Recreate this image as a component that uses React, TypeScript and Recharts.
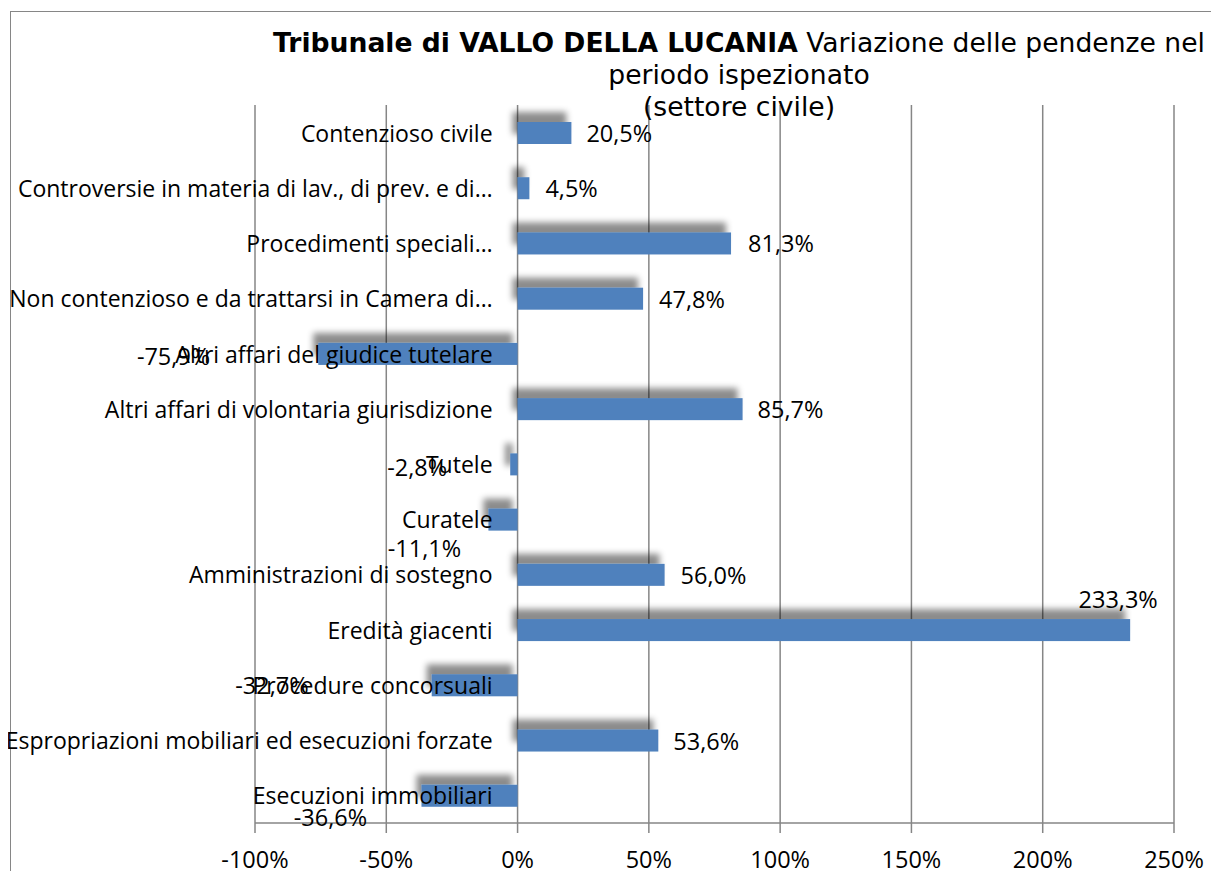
import React from 'react';
import { BarChart, Bar, XAxis, YAxis, CartesianGrid, LabelList } from 'recharts';

// categorie (ordine dall'alto)
const categories = [
  'Contenzioso civile',
  'Controversie in materia di lav., di prev. e di…',
  'Procedimenti speciali…',
  'Non contenzioso e da trattarsi in Camera di…',
  'Altri affari del giudice tutelare',
  'Altri affari di volontaria giurisdizione',
  'Tutele',
  'Curatele',
  'Amministrazioni di sostegno',
  'Eredità giacenti',
  'Procedure concorsuali',
  'Espropriazioni mobiliari ed esecuzioni forzate',
  'Esecuzioni immobiliari',
];

// variazione percentuale delle pendenze
const variations = [20.5, 4.5, 81.3, 47.8, -75.9, 85.7, -2.8, -11.1, 56.0, 233.3, -32.7, 53.6, -36.6];

const xTicks = [-100, -50, 0, 50, 100, 150, 200, 250];

// where Excel dropped each data label, relative to the bar end
const labelPlacement: [string, number, number][] = [
  ['start', 15, 0],
  ['start', 16, 0],
  ['start', 17, 0],
  ['start', 16, 0],
  ['end', -108, 2],
  ['start', 15, 0],
  ['end', -63, 3],
  ['middle', -64, 28],
  ['start', 16, 0],
  ['middle', -12, -31],
  ['end', -123, 0],
  ['start', 15, 0],
  ['middle', -91, 21],
];

const data = categories.map((name, i) => ({ name, value: variations[i] }));

const W = 1203;
const H = 863;
const MARGIN = { top: 97, right: 37, bottom: 0, left: 0 };
const Y_AXIS_W = 247;
const X_MIN = -100;
const X_MAX = 250;
const ZERO_X = Y_AXIS_W + ((W - MARGIN.right - Y_AXIS_W) * (0 - X_MIN)) / (X_MAX - X_MIN);

const FONT = '"Open Sans", sans-serif';
const FS = 23.5;
const GRID = '#868686';
const BLUE = '#4F81BD';

const fmt = (v: number) => `${v.toFixed(1).replace('.', ',')}%`;

function CategoryTick({ y, payload }: any) {
  return (
    <text x={ZERO_X - 25} y={y} textAnchor="end" dominantBaseline="central" fontSize={23} fontFamily={FONT} fill="#000">
      {payload.value}
    </text>
  );
}

function ValueTick({ x, y, payload }: any) {
  return (
    <text x={x} y={y + 24} textAnchor="middle" dominantBaseline="central" fontSize={FS} fontFamily={FONT} fill="#000">
      {payload.value}%
    </text>
  );
}

function ShadowBar({ x, y, width, height }: any) {
  const x0 = width < 0 ? x + width : x;
  return <rect x={x0} y={y} width={Math.abs(width)} height={height} fill={BLUE} filter="url(#barShadow)" />;
}

function ValueLabel(props: any) {
  const vb = props.viewBox ?? props;
  const { x, y, width, height } = vb;
  const { value, index } = props;
  const end = value >= 0 ? Math.max(x, x + width) : Math.min(x, x + width);
  const [anchor, dx, dy] = labelPlacement[index];
  return (
    <text
      x={end + dx}
      y={y + height / 2 + dy}
      textAnchor={anchor as any}
      dominantBaseline="central"
      fontSize={FS}
      fontFamily={FONT}
      fill="#000"
    >
      {fmt(value)}
    </text>
  );
}

export default function App() {
  // fixed so the page never grows a scrollbar
  return (
    <div
      style={{
        position: 'fixed',
        left: 8,
        top: 8,
        width: W,
        height: H,
        overflow: 'hidden',
        background: '#fff',
      }}
    >
      <svg width={0} height={0} style={{ position: 'absolute' }}>
        <defs>
          <filter id="barShadow" filterUnits="userSpaceOnUse" x={0} y={0} width={W} height={H}>
            <feDropShadow dx={-5} dy={-10} stdDeviation={3} floodColor="#000" floodOpacity={0.45} />
          </filter>
        </defs>
      </svg>
      <div
        style={{
          position: 'absolute',
          left: 2,
          top: 3,
          width: 1210,
          height: 900,
          border: `1px solid ${GRID}`,
          boxSizing: 'border-box',
        }}
      />
      <BarChart width={W} height={H} data={data} layout="vertical" margin={MARGIN}>
        <CartesianGrid vertical horizontal={false} stroke={GRID} strokeWidth={1.5} />
        <XAxis
          type="number"
          domain={[X_MIN, X_MAX]}
          ticks={xTicks}
          height={48}
          tickSize={10}
          axisLine={{ stroke: GRID, strokeWidth: 1.5 }}
          tickLine={{ stroke: GRID, strokeWidth: 1.5 }}
          tick={<ValueTick />}
          interval={0}
        />
        <YAxis
          type="category"
          dataKey="name"
          width={Y_AXIS_W}
          axisLine={false}
          tickLine={false}
          tick={<CategoryTick />}
          interval={0}
        />
        <Bar dataKey="value" barSize={22} shape={<ShadowBar />} isAnimationActive={false}>
          <LabelList dataKey="value" content={<ValueLabel />} />
        </Bar>
      </BarChart>
      <div
        style={{
          position: 'absolute',
          left: 131,
          top: 19,
          width: 1200,
          textAlign: 'center',
          fontFamily: '"DejaVu Sans", Verdana, sans-serif',
          fontSize: 26.6,
          lineHeight: '32px',
          color: '#000',
          whiteSpace: 'nowrap',
          pointerEvents: 'none',
        }}
      >
        <b>Tribunale di VALLO DELLA LUCANIA</b> Variazione delle pendenze nel
        <br />
        periodo ispezionato
        <br />
        (settore civile)
      </div>
    </div>
  );
}
